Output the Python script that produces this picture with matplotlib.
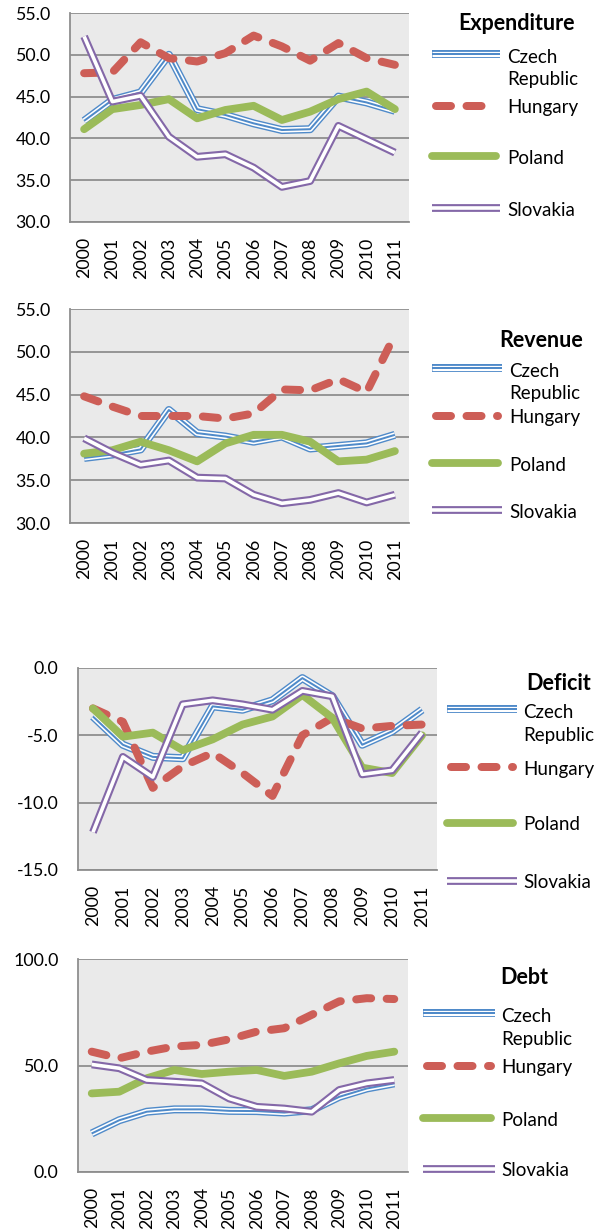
import matplotlib
matplotlib.use("Agg")
import matplotlib.pyplot as plt
import matplotlib.patheffects as pe
from matplotlib.lines import Line2D
import numpy as np

# ---------------- data ----------------
years = [str(y) for y in range(2000, 2012)]
countries = ["Czech\nRepublic", "Hungary", "Poland", "Slovakia"]

exp_czech = [42.1, 44.6, 45.5, 50.0, 43.5, 42.8, 41.8, 41.0, 41.1, 45.0, 44.3, 43.3]
exp_hungary = [47.8, 47.9, 51.5, 49.6, 49.2, 50.2, 52.3, 51.0, 49.3, 51.4, 49.6, 48.8]
exp_poland = [41.1, 43.5, 44.0, 44.7, 42.4, 43.4, 43.9, 42.2, 43.2, 44.7, 45.6, 43.5]
exp_slovakia = [52.2, 44.4, 45.1, 40.2, 37.8, 38.1, 36.5, 34.2, 34.9, 41.5, 39.9, 38.3]

rev_czech = [37.6, 38.0, 38.6, 43.2, 40.5, 40.1, 39.5, 40.1, 38.7, 39.0, 39.3, 40.3]
rev_hungary = [44.8, 43.6, 42.5, 42.5, 42.5, 42.2, 42.8, 45.6, 45.5, 46.8, 45.3, 52.0]
rev_poland = [38.1, 38.5, 39.5, 38.5, 37.2, 39.3, 40.3, 40.3, 39.5, 37.2, 37.4, 38.4]
rev_slovakia = [39.9, 38.2, 36.8, 37.3, 35.3, 35.2, 33.3, 32.3, 32.7, 33.5, 32.4, 33.3]

def_czech = [-3.6, -5.7, -6.6, -6.7, -2.85, -3.1, -2.4, -0.75, -2.1, -5.7, -4.7, -3.1]
def_hungary = [-3.0, -4.0, -8.9, -7.3, -6.3, -7.8, -9.5, -5.0, -3.7, -4.5, -4.3, -4.2]
def_poland = [-3.0, -5.1, -4.8, -6.1, -5.3, -4.2, -3.6, -2.0, -3.7, -7.4, -7.8, -5.0]
def_slovakia = [-12.2, -6.6, -8.1, -2.7, -2.4, -2.7, -3.1, -1.7, -2.1, -7.9, -7.6, -4.8]

debt_czech = [18.1, 24.3, 28.3, 29.4, 29.4, 28.7, 28.6, 27.9, 29.0, 35.3, 39.2, 41.6]
debt_hungary = [56.5, 53.4, 56.5, 58.9, 59.7, 62.3, 65.9, 67.5, 73.8, 80.1, 81.6, 81.2]
debt_poland = [36.9, 37.7, 44.0, 47.9, 46.0, 47.1, 47.9, 45.1, 47.1, 51.0, 54.5, 56.5]
debt_slovakia = [50.5, 48.7, 43.2, 42.4, 41.6, 34.5, 30.6, 29.8, 28.3, 38.5, 41.6, 43.2]

# ---------------- styles ----------------
W, H = 599, 1231
DPI = 100
PX = 72.0 / DPI  # points per pixel

BLUE = "#4F8AC9"
RED = "#CD5E57"
GREEN = "#9BBB59"
PURPLE = "#8468A8"
BG = "#EAEAEA"
GRID = "#8E8E8E"

plt.rcParams["font.family"] = ["Lato", "DejaVu Sans"]

TICK_FS = 12.8
LEG_FS = 13.5
TITLE_FS = 15.5


def style_kwargs(i):
    if i == 0:  # triple line
        return dict(color=BLUE, lw=2.0 * PX, solid_capstyle="butt", solid_joinstyle="round",
                    path_effects=[pe.Stroke(linewidth=8.0 * PX, foreground=BLUE),
                                  pe.Stroke(linewidth=5.2 * PX, foreground="white"),
                                  pe.Normal()])
    if i == 1:  # dashed
        return dict(color=RED, lw=8.0 * PX, dashes=(1.875, 1.94),
                    dash_capstyle="round", dash_joinstyle="round")
    if i == 2:  # thick solid
        return dict(color=GREEN, lw=7.8 * PX, solid_capstyle="round", solid_joinstyle="round")
    # double line
    return dict(color=PURPLE, lw=7.8 * PX, solid_capstyle="butt", solid_joinstyle="round",
                path_effects=[pe.Stroke(linewidth=7.8 * PX, foreground=PURPLE),
                              pe.Stroke(linewidth=3.6 * PX, foreground="white")])


fig = plt.figure(figsize=(W / DPI, H / DPI), dpi=DPI)
fig.patch.set_facecolor("white")


def fx(x):
    return x / W


def fy(y):
    return 1 - y / H


panels = [
    dict(box=(70, 409, 13, 222), series=[exp_czech, exp_hungary, exp_poland, exp_slovakia],
         ylim=(30, 55), ticks=np.arange(30, 56, 5), title="Expenditure",
         title_xy=(516, 23), hx=(432, 500), tx=507, hy=[54, 106, 156, 208]),
    dict(box=(70, 409, 309, 523), series=[rev_czech, rev_hungary, rev_poland, rev_slovakia],
         ylim=(30, 55), ticks=np.arange(30, 56, 5), title="Revenue",
         title_xy=(541, 340), hx=(432, 502), tx=509, hy=[368, 416, 463, 510]),
    dict(box=(78, 437, 668, 870), series=[def_czech, def_hungary, def_poland, def_slovakia],
         ylim=(-15, 0), ticks=np.arange(-15, 1, 5), title="Deficit",
         title_xy=(559, 684), hx=(447, 517), tx=523, hy=[709, 767, 823, 881]),
    dict(box=(78, 408, 959, 1172), series=[debt_czech, debt_hungary, debt_poland, debt_slovakia],
         ylim=(0, 100), ticks=np.arange(0, 101, 50), title="Debt",
         title_xy=(524, 978), hx=(423, 495), tx=501, hy=[1013, 1066, 1118, 1169]),
]

x = np.arange(len(years))

for p in panels:
    x0, x1, y0, y1 = p["box"]
    ax = fig.add_axes([fx(x0), fy(y1), (x1 - x0) / W, (y1 - y0) / H])
    ax.set_facecolor(BG)
    for i, vals in enumerate(p["series"]):
        ax.plot(x, vals, **style_kwargs(i))
    ax.set_xlim(-0.5, len(years) - 0.5)
    ax.set_ylim(*p["ylim"])
    ax.set_yticks(p["ticks"])
    ax.set_yticklabels([f"{t:.1f}" for t in p["ticks"]], fontsize=TICK_FS)
    ax.set_xticks(x)
    ax.set_xticklabels(years, rotation=90, fontsize=TICK_FS)
    ax.tick_params(axis="y", length=0, pad=14)
    ax.tick_params(axis="x", length=0, pad=11)
    ax.grid(axis="y", color=GRID, lw=1.8 * PX)
    ax.set_axisbelow(True)
    for s in ["top", "right"]:
        ax.spines[s].set_visible(False)
    for s in ["left", "bottom"]:
        ax.spines[s].set_color(GRID)
        ax.spines[s].set_linewidth(1.8 * PX)

    # legend (drawn manually, to mimic the spreadsheet layout)
    fig.text(fx(p["title_xy"][0]), fy(p["title_xy"][1]), p["title"], fontsize=TITLE_FS,
             fontweight="bold", ha="center", va="center")
    for i, name in enumerate(countries):
        yy = p["hy"][i]
        kw = style_kwargs(i)
        ln = Line2D([fx(p["hx"][0] + (4 if i == 1 else 0)), fx(p["hx"][1] - (4 if i in (1, 2) else 0))],
                    [fy(yy), fy(yy)], transform=fig.transFigure, **kw)
        fig.add_artist(ln)
        nlines = name.count("\n")
        base = yy + 7.5 + 24 * nlines  # baseline of the last text line
        fig.text(fx(p["tx"]), fy(base), name, fontsize=LEG_FS, ha="left", va="baseline",
                 linespacing=1.4)

fig.savefig("out.png", dpi=DPI, facecolor="white")
